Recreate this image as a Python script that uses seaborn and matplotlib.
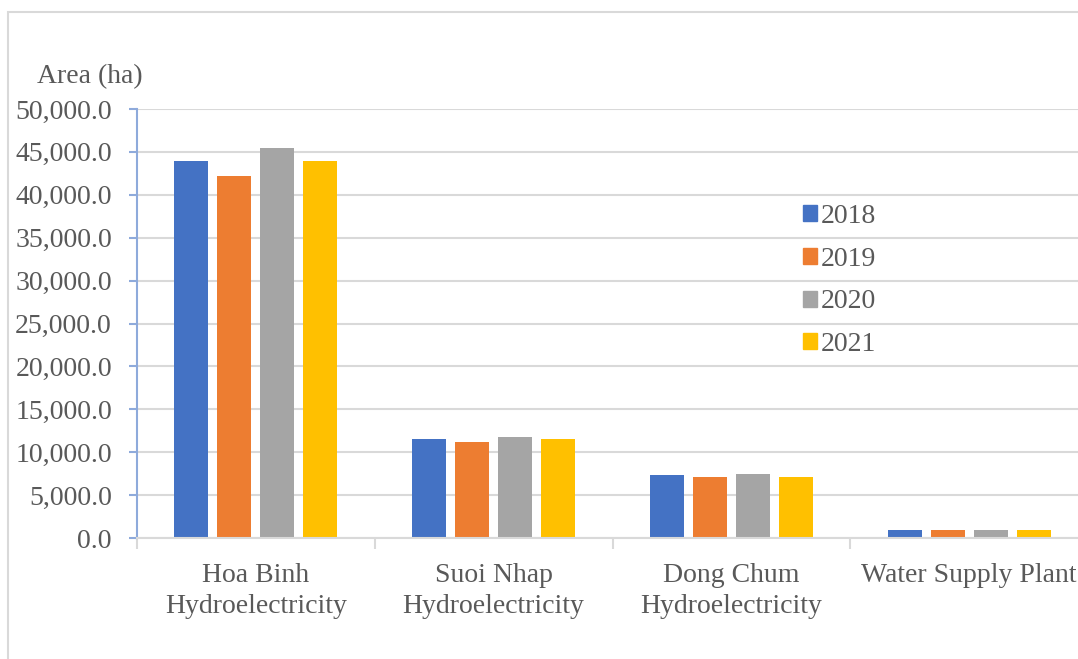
import matplotlib.pyplot as plt
import matplotlib.patches as mpatches
from matplotlib.ticker import FuncFormatter
import seaborn as sns
import pandas as pd

# data
plants = ['Hoa Binh\nHydroelectricity', 'Suoi Nhap\nHydroelectricity',
          'Dong Chum\nHydroelectricity', 'Water Supply Plant']
years = ['2018', '2019', '2020', '2021']
area_2018 = [43970, 11500, 7300, 930]
area_2019 = [42230, 11230, 7070, 930]
area_2020 = [45450, 11770, 7460, 930]
area_2021 = [43900, 11500, 7070, 880]
colors = ['#4472C4', '#ED7D31', '#A5A5A5', '#FFC000']

rows = []
for year, vals in zip(years, [area_2018, area_2019, area_2020, area_2021]):
    for p, v in zip(plants, vals):
        rows.append({'plant': p, 'year': year, 'area': v})
df = pd.DataFrame(rows)

sns.set_style('white')
plt.rcParams['font.family'] = ['Liberation Serif', 'DejaVu Serif']
text_col = '#595959'

fig = plt.figure(figsize=(10.78, 6.59), dpi=100)
W, H = 1078, 659
ax = fig.add_axes([137 / W, 1 - 538 / H, 951 / W, 429 / H])

sns.barplot(data=df, x='plant', y='area', hue='year', palette=colors,
            width=0.723, gap=0.21, ax=ax, saturation=1, linewidth=0)

ax.set_xlim(-0.5, 3.5)
ax.set_ylim(0, 50000)
ax.set_yticks(range(0, 50001, 5000))
ax.yaxis.set_major_formatter(FuncFormatter(lambda v, _: f'{v:,.1f}'))
ax.grid(axis='y', color='#d9d9d9', linewidth=1.5)
ax.set_axisbelow(True)
ax.set_xlabel('')
ax.set_ylabel('')

for s in ['top', 'right']:
    ax.spines[s].set_visible(False)
ax.spines['left'].set_color('#8eaadb')
ax.spines['left'].set_linewidth(1.5)
ax.spines['bottom'].set_color('#d9d9d9')
ax.spines['bottom'].set_linewidth(1.5)

ax.tick_params(axis='y', colors='#8eaadb', length=6, width=1.5, pad=12,
               labelsize=20, labelcolor=text_col, direction='out', left=True)
ax.tick_params(axis='x', length=0, pad=18, labelsize=20, labelcolor=text_col)
for lbl in ax.get_xticklabels():
    lbl.set_linespacing(1.3)
ax.set_xticks([-0.5, 0.5, 1.5, 2.5], minor=True)
ax.tick_params(axis='x', which='minor', length=8, width=1.5, color='#d9d9d9',
               direction='out', bottom=True)

fig.text(37 / W, 1 - 77 / H, 'Area (ha)', fontsize=20, color=text_col,
         ha='left', va='center')

handles = [mpatches.Patch(color=c) for c in colors]
ax.legend(handles, years, loc='upper left',
          bbox_to_anchor=(789 / W, 1 - 190 / H), bbox_transform=fig.transFigure,
          frameon=False, fontsize=20, labelcolor=text_col,
          handlelength=0.5, handleheight=0.5, handletextpad=0.15,
          labelspacing=0.64, borderpad=0)

# outer chart border
fig.patches.append(mpatches.Rectangle((8 / W, -0.05), 1.1, 1 - 12 / H + 0.05,
                                      transform=fig.transFigure, fill=False,
                                      edgecolor='#d9d9d9', linewidth=1.5))

fig.savefig('out.png', dpi=100)
